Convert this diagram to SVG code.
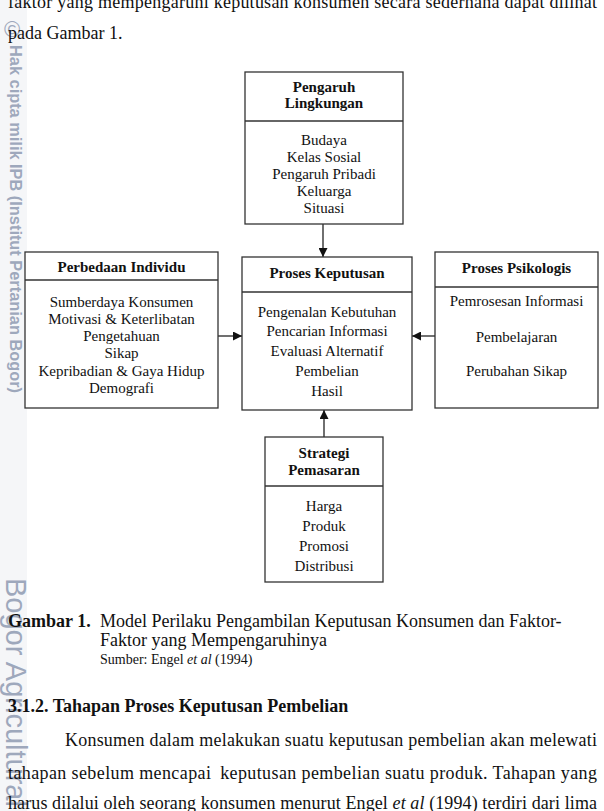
<svg xmlns="http://www.w3.org/2000/svg" width="604" height="811" viewBox="0 0 604 811">
<style>
.t{font-family:"Liberation Serif","Times New Roman",serif;fill:#111;}
.p{font-size:18px;}
.b{font-weight:bold;}
.h{font-size:15px;font-weight:bold;text-anchor:middle;}
.n{font-size:15px;text-anchor:middle;}
.box{fill:#fff;stroke:#333;stroke-width:1.3;}
.div{stroke:#333;stroke-width:1.3;}
.con{stroke:#222;stroke-width:1.3;fill:none;marker-end:url(#ah);}
.wm{font-family:"Liberation Sans",Arial,sans-serif;fill:#9ea8bc;}
</style>
<defs>
<marker id="ah" viewBox="0 0 10 10" refX="10" refY="5" markerWidth="10" markerHeight="9" markerUnits="userSpaceOnUse" orient="auto">
<path d="M0,0 L10,5 L0,10 z" fill="#111"/>
</marker>
</defs>
<rect x="0" y="0" width="604" height="811" fill="#fff"/>
<rect x="0" y="0" width="27" height="811" fill="#f5f6f8"/>

<g id="watermark">
<text class="wm" font-size="22" x="4" y="37">©</text>
<text class="wm" font-size="16" font-weight="bold" transform="translate(10,45) rotate(90)" x="0" y="0" textLength="348" lengthAdjust="spacingAndGlyphs">Hak cipta milik IPB (Institut Pertanian Bogor)</text>
<text class="wm" font-size="29" transform="translate(6,578) rotate(90)" x="0" y="0" fill="#b3bbcb">Bogor Agricultural University</text>
</g>

<g id="text-top">
<text class="t p" x="8" y="8" textLength="589" lengthAdjust="spacing">faktor yang mempengaruhi keputusan konsumen secara sederhana dapat dilihat</text>
<text class="t p" x="8" y="39">pada Gambar 1.</text>
</g>

<g id="connectors">
<line class="con" x1="323" y1="224" x2="323" y2="257"/>
<line class="con" x1="218" y1="336" x2="242" y2="336"/>
<line class="con" x1="435" y1="336" x2="412" y2="336"/>
<line class="con" x1="324" y1="437" x2="324" y2="410"/>
</g>

<g id="pengaruh-lingkungan">
<rect class="box" x="245" y="72" width="158" height="152"/>
<line class="div" x1="245" y1="121" x2="403" y2="121"/>
<text class="t h" x="324" y="92">Pengaruh</text>
<text class="t h" x="324" y="108">Lingkungan</text>
<text class="t n" x="324" y="145">Budaya</text>
<text class="t n" x="324" y="162">Kelas Sosial</text>
<text class="t n" x="324" y="179">Pengaruh Pribadi</text>
<text class="t n" x="324" y="196">Keluarga</text>
<text class="t n" x="324" y="213">Situasi</text>
</g>

<g id="perbedaan-individu">
<rect class="box" x="25" y="252" width="193" height="156"/>
<line class="div" x1="25" y1="280" x2="218" y2="280"/>
<text class="t h" x="121.5" y="272">Perbedaan Individu</text>
<text class="t n" x="121.5" y="307">Sumberdaya Konsumen</text>
<text class="t n" x="121.5" y="324">Motivasi &amp; Keterlibatan</text>
<text class="t n" x="121.5" y="341">Pengetahuan</text>
<text class="t n" x="121.5" y="358">Sikap</text>
<text class="t n" x="121.5" y="376">Kepribadian &amp; Gaya Hidup</text>
<text class="t n" x="121.5" y="393">Demografi</text>
</g>

<g id="proses-keputusan">
<rect class="box" x="242" y="257" width="170" height="153"/>
<line class="div" x1="242" y1="292" x2="412" y2="292"/>
<text class="t h" x="327" y="278">Proses Keputusan</text>
<text class="t n" x="327" y="317">Pengenalan Kebutuhan</text>
<text class="t n" x="327" y="336">Pencarian Informasi</text>
<text class="t n" x="327" y="356">Evaluasi Alternatif</text>
<text class="t n" x="327" y="376">Pembelian</text>
<text class="t n" x="327" y="396">Hasil</text>
</g>

<g id="proses-psikologis">
<rect class="box" x="435" y="252" width="163" height="156"/>
<line class="div" x1="435" y1="287" x2="598" y2="287"/>
<text class="t h" x="516.5" y="273">Proses Psikologis</text>
<text class="t n" x="516.5" y="306">Pemrosesan Informasi</text>
<text class="t n" x="516.5" y="342">Pembelajaran</text>
<text class="t n" x="516.5" y="376">Perubahan Sikap</text>
</g>

<g id="strategi-pemasaran">
<rect class="box" x="265" y="437" width="118" height="145"/>
<line class="div" x1="265" y1="486" x2="383" y2="486"/>
<text class="t h" x="324" y="458">Strategi</text>
<text class="t h" x="324" y="475">Pemasaran</text>
<text class="t n" x="324" y="511">Harga</text>
<text class="t n" x="324" y="531">Produk</text>
<text class="t n" x="324" y="551">Promosi</text>
<text class="t n" x="324" y="571">Distribusi</text>
</g>

<g id="caption">
<text class="t p b" x="8" y="627">Gambar 1.</text>
<text class="t p" x="100" y="627">Model Perilaku Pengambilan Keputusan Konsumen dan Faktor-</text>
<text class="t p" x="100" y="646">Faktor yang Mempengaruhinya</text>
<text class="t" font-size="14" x="100" y="664">Sumber: Engel <tspan font-style="italic">et al</tspan> (1994)</text>
</g>

<g id="text-bottom">
<text class="t p b" x="8" y="712">3.1.2. Tahapan Proses Keputusan Pembelian</text>
<text class="t p" x="65" y="746" textLength="532" lengthAdjust="spacing">Konsumen dalam melakukan suatu keputusan pembelian akan melewati</text>
<text class="t p" x="8" y="779" textLength="589" lengthAdjust="spacing">tahapan sebelum mencapai <tspan dx="4">keputusan</tspan> pembelian suatu produk. Tahapan yang</text>
<text class="t p" x="8" y="809" textLength="589" lengthAdjust="spacing">harus dilalui oleh seorang konsumen menurut Engel <tspan font-style="italic">et al</tspan> (1994) terdiri dari lima</text>
</g>
</svg>
